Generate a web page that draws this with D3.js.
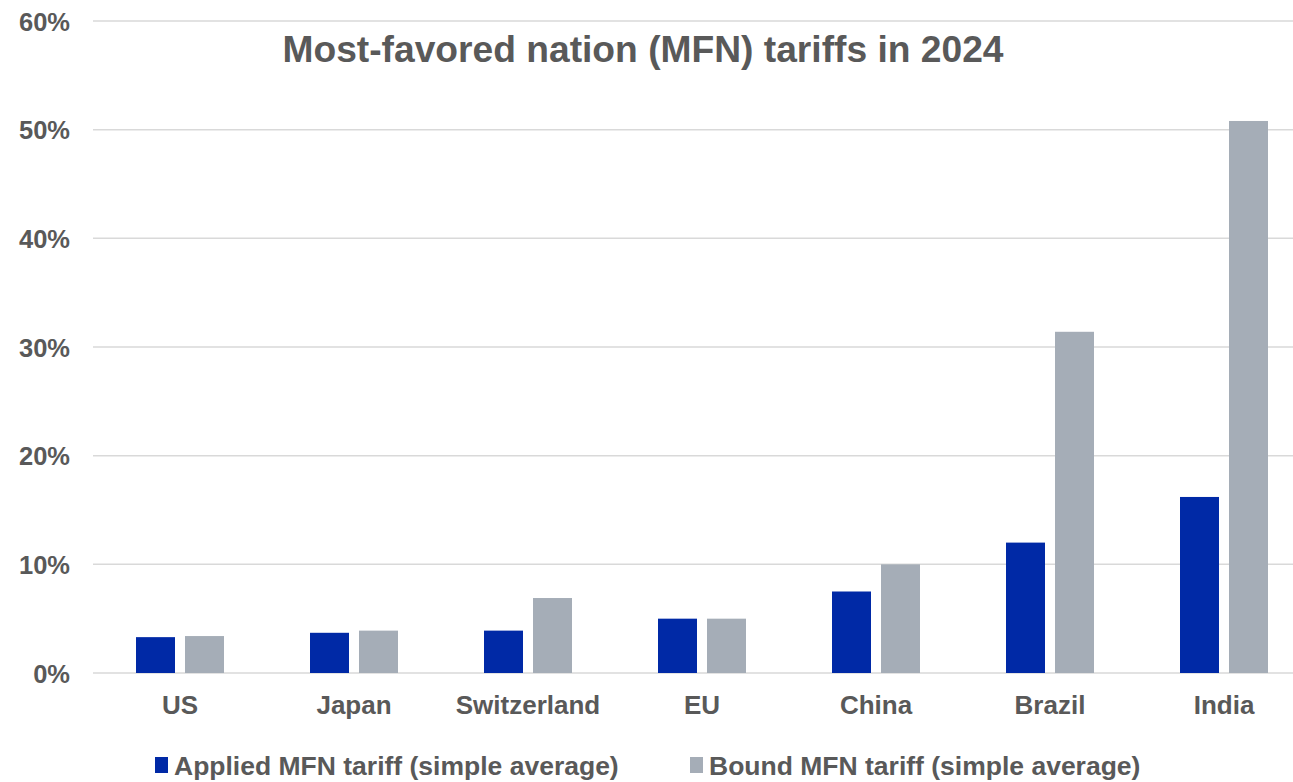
<!DOCTYPE html>
<html><head><meta charset="utf-8">
<script src="https://cdn.jsdelivr.net/npm/d3@7"></script>
<style>body{margin:0;background:#fff;overflow:hidden}svg{display:block;font-family:"Liberation Sans",Arial,sans-serif}</style>
</head><body>
<script>
const categories = ["US","Japan","Switzerland","EU","China","Brazil","India"];
const applied = [3.3, 3.7, 3.9, 5.0, 7.5, 12.0, 16.2];
const bound = [3.4, 3.9, 6.9, 5.0, 10.0, 31.4, 50.8];
const yTicks = [0, 10, 20, 30, 40, 50, 60];
const seriesNames = ["Applied MFN tariff (simple average)", "Bound MFN tariff (simple average)"];
const colors = ["#0029A6", "#A5ADB7"];

const W = 1293, H = 782;
const svg = d3.select("body").append("svg").attr("width", W).attr("height", H);
const x = d3.scaleBand().domain(categories).range([93, 1311]).paddingInner(0).paddingOuter(0);
const y = d3.scaleLinear().domain([0, 60]).range([673, 21]);
const textColor = "#595959";

// gridlines
svg.append("g").selectAll("line").data(yTicks).join("line")
  .attr("x1", 93).attr("x2", W).attr("y1", d => y(d)).attr("y2", d => y(d))
  .attr("stroke", "#D9D9D9").attr("stroke-width", 1.5);

// y axis labels
const yAxis = d3.axisLeft(y).tickValues(yTicks).tickFormat(d => d + "%").tickSize(0).tickPadding(0);
const ya = svg.append("g").attr("transform", "translate(70,0)").call(yAxis);
ya.select(".domain").remove();
ya.selectAll("text").attr("fill", textColor).attr("font-size", 25.5).attr("font-weight", "bold")
  .attr("font-family", "Liberation Sans, Arial, sans-serif").attr("dy", "0.36em");

// bars
const barW = 39, gap = 10;
const data = [applied, bound];
data.forEach((vals, si) => {
  svg.append("g").selectAll("rect").data(categories).join("rect")
    .attr("x", (c) => x(c) + x.bandwidth() / 2 + (si === 0 ? -gap / 2 - barW : gap / 2))
    .attr("y", (c, i) => y(vals[i]))
    .attr("width", barW)
    .attr("height", (c, i) => y(0) - y(vals[i]))
    .attr("fill", colors[si]);
});

// x axis labels
const xAxis = d3.axisBottom(x).tickSize(0).tickPadding(0);
const xa = svg.append("g").attr("transform", "translate(0,714)").call(xAxis);
xa.select(".domain").remove();
xa.selectAll("text").attr("fill", textColor).attr("font-size", 26).attr("font-weight", "bold")
  .attr("font-family", "Liberation Sans, Arial, sans-serif").attr("dy", "0");

// title
svg.append("text").attr("x", 643).attr("y", 62).attr("text-anchor", "middle")
  .attr("fill", textColor).attr("font-size", 37.2).attr("font-weight", "bold")
  .text("Most-favored nation (MFN) tariffs in 2024");

// legend
const legX = [155, 690];
seriesNames.forEach((n, i) => {
  svg.append("rect").attr("x", legX[i]).attr("y", 757).attr("width", 13).attr("height", 16).attr("fill", colors[i]);
  svg.append("text").attr("x", legX[i] + 19).attr("y", 775)
    .attr("fill", textColor).attr("font-size", 26.5).attr("font-weight", "bold").text(n);
});
</script>
</body></html>
